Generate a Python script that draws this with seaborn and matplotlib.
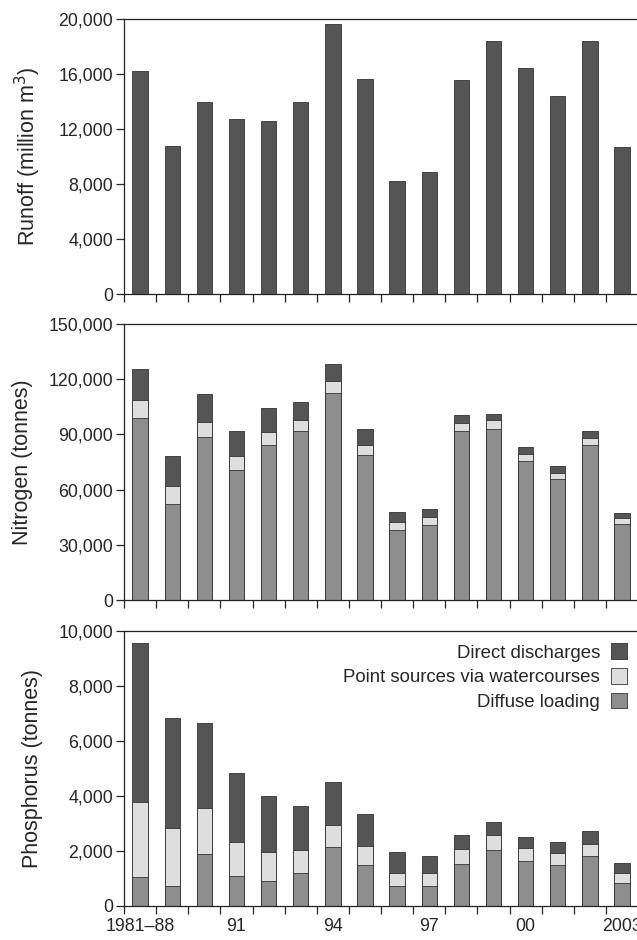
import numpy as np
import pandas as pd
import seaborn as sns
import matplotlib
import matplotlib.pyplot as plt
from matplotlib.patches import Patch
from matplotlib.ticker import FuncFormatter

matplotlib.use("Agg")

# Years on the x axis (first bar is the 1981-88 average)
years = ["1981–88", "89", "90", "91", "92", "93", "94", "95", "96",
         "97", "98", "99", "00", "01", "02", "2003"]
shown_labels = {"1981–88": "1981–88", "91": "91", "94": "94",
                "97": "97", "00": "00", "2003": "2003"}

# Runoff (million m3)
runoff = [16250, 10800, 14000, 12700, 12600, 14000, 19600, 15600,
          8200, 8900, 15550, 18400, 16450, 14400, 18430, 10680]

# Nitrogen (tonnes)
n_diffuse = [99000, 52100, 88700, 70700, 84000, 92000, 112600, 78900,
             38300, 41000, 92000, 93200, 75600, 65700, 84300, 41400]
n_point = [9800, 9600, 8200, 7800, 7400, 5900, 6200, 5100,
           4000, 4000, 4100, 4400, 4000, 3400, 4000, 3000]
n_direct = [16700, 16800, 14800, 13300, 12900, 9800, 9400, 8900,
            5600, 4700, 4400, 3400, 3500, 3500, 3500, 2900]

# Phosphorus (tonnes)
p_diffuse = [1050, 710, 1880, 1080, 920, 1210, 2150, 1500,
             710, 710, 1510, 2050, 1620, 1500, 1800, 850]
p_point = [2740, 2140, 1680, 1230, 1030, 810, 790, 670,
           490, 480, 550, 520, 470, 440, 460, 350]
p_direct = [5770, 3980, 3090, 2520, 2060, 1600, 1560, 1160,
            770, 630, 530, 470, 420, 370, 450, 350]

DARK = "#555555"
LIGHT = "#dedede"
MID = "#8e8e8e"
EDGE = "#333333"
BAR_W = 0.48

sns.set_style("ticks")
plt.rcParams["font.family"] = ["Liberation Sans", "DejaVu Sans"]
plt.rcParams["axes.linewidth"] = 0.9
plt.rcParams["axes.edgecolor"] = "#222222"

fig = plt.figure(figsize=(6.37, 9.40), dpi=100)
left, width = 0.1947, 0.807
ax_r = fig.add_axes([left, 0.6872, width, 0.2926])
ax_n = fig.add_axes([left, 0.3617, width, 0.2936])
ax_p = fig.add_axes([left, 0.0362, width, 0.2926])


def bar(ax, values, color):
    df = pd.DataFrame({"year": years, "value": values})
    sns.barplot(data=df, x="year", y="value", color=color, saturation=1,
                width=BAR_W, edgecolor=EDGE, linewidth=0.6, ax=ax)


def stacked(ax, diffuse, point, direct):
    diffuse = np.array(diffuse)
    point = np.array(point)
    direct = np.array(direct)
    # draw totals first, then overlay the lower parts of the stack
    bar(ax, diffuse + point + direct, DARK)
    bar(ax, diffuse + point, LIGHT)
    bar(ax, diffuse, MID)


bar(ax_r, runoff, DARK)
stacked(ax_n, n_diffuse, n_point, n_direct)
stacked(ax_p, p_diffuse, p_point, p_direct)

fmt = FuncFormatter(lambda v, pos: f"{int(v):,}")
settings = [
    (ax_r, 20000, 4000, "Runoff (million m$^3$)"),
    (ax_n, 150000, 30000, "Nitrogen (tonnes)"),
    (ax_p, 10000, 2000, "Phosphorus (tonnes)"),
]
for ax, ymax, step, label in settings:
    ax.set_ylim(0, ymax)
    ax.set_yticks(np.arange(0, ymax + 1, step))
    ax.yaxis.set_major_formatter(fmt)
    ax.set_xlim(-0.5, len(years) - 0.5)
    ax.set_xticks(np.arange(-0.5, len(years), 1))
    ax.set_xticklabels([])
    ax.set_xlabel("")
    ax.set_ylabel(label, fontsize=15.5, labelpad=11)
    ax.spines["right"].set_visible(False)
    ax.tick_params(axis="both", direction="out", length=6, width=0.9,
                   labelsize=12.8, pad=2)

# year labels under the bars (bottom panel only)
pos = [i for i, y in enumerate(years) if y in shown_labels]
ax_p.set_xticks(pos, minor=True)
ax_p.set_xticklabels([shown_labels[years[i]] for i in pos], minor=True)
ax_p.tick_params(axis="x", which="minor", length=0, labelsize=12.8, pad=9)

handles = [
    Patch(facecolor=DARK, edgecolor=EDGE, linewidth=0.6, label="Direct discharges"),
    Patch(facecolor=LIGHT, edgecolor=EDGE, linewidth=0.6, label="Point sources via watercourses"),
    Patch(facecolor=MID, edgecolor=EDGE, linewidth=0.6, label="Diffuse loading"),
]
ax_p.legend(handles=handles, loc="upper right", bbox_to_anchor=(1.0, 0.995),
            frameon=False, markerfirst=False, fontsize=13.4,
            handlelength=0.85, handleheight=0.9, handletextpad=0.6,
            labelspacing=0.35, borderaxespad=0.2)

fig.savefig("out.png", dpi=100)
plt.close(fig)
